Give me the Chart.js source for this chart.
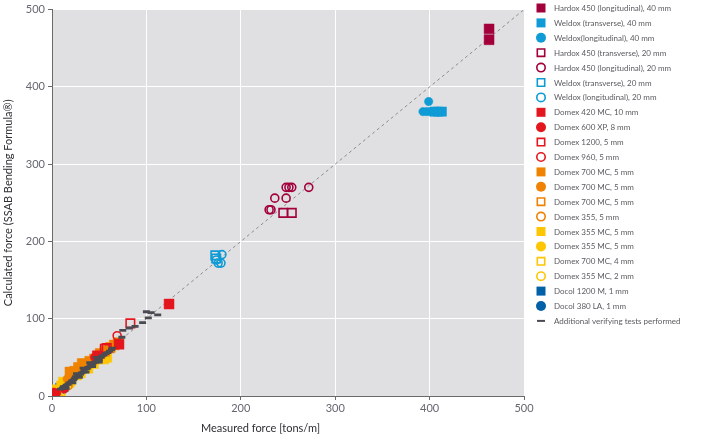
<!DOCTYPE html>
<html>
<head>
<meta charset="utf-8">
<script src="https://cdn.jsdelivr.net/npm/chart.js@4"></script>
<style>
  html, body { margin: 0; padding: 0; background: #fff; }
  #wrap { width: 706px; height: 439px; }
</style>
</head>
<body>
<div id="wrap"><canvas id="chart" width="706" height="439"></canvas></div>
<script>
// series labels (legend order)
const seriesLabels = [
    'Hardox 450 (longitudinal), 40 mm',
    'Weldox (transverse), 40 mm',
    'Weldox(longitudinal), 40 mm',
    'Hardox 450 (transverse), 20 mm',
    'Hardox 450 (longitudinal), 20 mm',
    'Weldox (transverse), 20 mm',
    'Weldox (longitudinal), 20 mm',
    'Domex 420 MC, 10 mm',
    'Domex 600 XP, 8 mm',
    'Domex 1200, 5 mm',
    'Domex 960, 5 mm',
    'Domex 700 MC, 5 mm',
    'Domex 700 MC, 5 mm',
    'Domex 700 MC, 5 mm',
    'Domex 355, 5 mm',
    'Domex 355 MC, 5 mm',
    'Domex 355 MC, 5 mm',
    'Domex 700 MC, 4 mm',
    'Domex 355 MC, 2 mm',
    'Docol 1200 M, 1 mm',
    'Docol 380 LA, 1 mm',
    'Additional verifying tests performed'
];

// [measured, calculated] pairs
const hardoxLong40 = [[463, 475], [463, 461]];
const weldoxTrans40 = [[405, 368], [409, 368], [413, 368]];
const weldoxLong40 = [[399, 381], [393, 368], [397, 368], [401, 368]];
const hardoxTrans20 = [[245, 237], [254, 237]];
const hardoxLong20 = [[230, 241], [232, 241], [236, 256], [248, 256], [248, 270], [251, 270], [254, 270], [272, 270]];
const weldoxTrans20 = [[173, 182], [174, 178]];
const weldoxLong20 = [[180, 183], [176, 172], [179, 172], [174, 176]];
const domex420 = [[124, 119], [71, 67], [48, 52]];
const domex600 = [[2, 5], [5, 4], [13, 9], [45, 50]];
const domex1200 = [[83, 94], [58, 62], [56, 61]];
const domex960 = [[69, 78]];
const domex700Sq = [[19, 31], [24, 32], [28, 37], [32, 42], [36, 41], [40, 45], [45, 48], [51, 55], [56, 58], [61, 62], [66, 66], [70, 69]];
const domex700Dot = [[16, 22], [34, 39]];
const domex700Open = [[62, 63]];
const domex355Open = [[17, 13]];
const domex355McSq = [[5, 8], [10, 13], [12, 18], [20, 22], [26, 27], [30, 30], [38, 36], [44, 42], [50, 48], [55, 48], [58, 50]];
const domex355McDot = [[21, 17], [8, 10], [42, 40]];
const domex700_4 = [[6, 3], [9, 6]];
const domex355_2 = [[4, 2], [19, 15], [3, 6]];
const docol1200 = [[9, 10], [12, 12]];
const docol380 = [[8, 12]];
const extraTests = [
    [9, 9], [11, 10], [12, 12], [14, 12], [15, 14], [17, 15], [18, 17], [20, 18], [21, 20], [23, 21],
    [24, 23], [25, 25], [27, 25], [28, 27], [30, 28], [31, 30], [33, 31], [34, 33], [35, 35], [37, 35],
    [38, 37], [40, 38], [41, 40], [43, 41], [44, 43], [46, 44], [48, 46], [50, 47], [52, 50], [53, 52],
    [55, 53], [57, 55], [59, 56], [61, 58], [63, 60], [64, 62], [74, 76], [75, 85], [82, 88], [88, 90],
    [96, 95], [100, 109], [102, 101], [105, 108], [112, 105],
    [15, 10], [22, 17], [29, 24], [36, 31], [43, 38], [50, 44], [26, 29], [33, 36], [40, 43], [47, 50]
];

// diagonal reference line
const diagonal = [[0, 0], [500, 500]];

const axisTicks = [0, 100, 200, 300, 400, 500];

const MAROON = '#a3003b';
const CYAN = '#0e9bd6';
const RED = '#e3161e';
const ORANGE = '#ef8200';
const YELLOW = '#fdc600';
const BLUE = '#0060a8';
const GREY = '#4a4b52';

function toPoints(arr) {
    return arr.map(p => ({ x: p[0], y: p[1] }));
}

function series(label, data, color, style, filled, radius) {
    return {
        label: label,
        data: toPoints(data),
        pointStyle: style,
        pointRadius: radius,
        pointHoverRadius: radius,
        pointBackgroundColor: filled ? color : 'rgba(0,0,0,0)',
        pointBorderColor: color,
        pointBorderWidth: filled ? 0.5 : 1.6,
        backgroundColor: filled ? color : 'rgba(0,0,0,0)',
        borderColor: color,
        showLine: false,
        order: 2
    };
}

const datasets = [
    series(seriesLabels[0], hardoxLong40, MAROON, 'rect', true, 7),
    series(seriesLabels[1], weldoxTrans40, CYAN, 'rect', true, 6.5),
    series(seriesLabels[2], weldoxLong40, CYAN, 'circle', true, 4.2),
    series(seriesLabels[3], hardoxTrans20, MAROON, 'rect', false, 6),
    series(seriesLabels[4], hardoxLong20, MAROON, 'circle', false, 4),
    series(seriesLabels[5], weldoxTrans20, CYAN, 'rect', false, 6),
    series(seriesLabels[6], weldoxLong20, CYAN, 'circle', false, 4),
    series(seriesLabels[7], domex420, RED, 'rect', true, 7),
    series(seriesLabels[8], domex600, RED, 'circle', true, 4.2),
    series(seriesLabels[9], domex1200, RED, 'rect', false, 6),
    series(seriesLabels[10], domex960, RED, 'circle', false, 4),
    series(seriesLabels[11], domex700Sq, ORANGE, 'rect', true, 7),
    series(seriesLabels[12], domex700Dot, ORANGE, 'circle', true, 4.2),
    series(seriesLabels[13], domex700Open, ORANGE, 'rect', false, 6),
    series(seriesLabels[14], domex355Open, ORANGE, 'circle', false, 4),
    series(seriesLabels[15], domex355McSq, YELLOW, 'rect', true, 7),
    series(seriesLabels[16], domex355McDot, YELLOW, 'circle', true, 4.2),
    series(seriesLabels[17], domex700_4, YELLOW, 'rect', false, 6),
    series(seriesLabels[18], domex355_2, YELLOW, 'circle', false, 4),
    series(seriesLabels[19], docol1200, BLUE, 'rect', true, 7),
    series(seriesLabels[20], docol380, BLUE, 'circle', true, 4.2),
    {
        label: seriesLabels[21],
        data: toPoints(extraTests),
        pointStyle: 'line',
        pointRadius: 3.5,
        pointHoverRadius: 3.5,
        pointBorderColor: GREY,
        pointBackgroundColor: GREY,
        pointBorderWidth: 2.8,
        borderColor: GREY,
        showLine: false,
        order: 0
    },
    {
        label: 'diagonal',
        type: 'line',
        data: toPoints(diagonal),
        borderColor: '#8c8c8c',
        borderWidth: 1,
        borderDash: [3, 3],
        pointRadius: 0,
        fill: false,
        order: 5
    }
];

// grey plot background
const plotBackground = {
    id: 'plotBackground',
    beforeDraw(chart) {
        const { ctx, chartArea } = chart;
        ctx.save();
        ctx.fillStyle = '#e0e0e2';
        ctx.fillRect(chartArea.left, chartArea.top, chartArea.right - chartArea.left, chartArea.bottom - chartArea.top);
        ctx.restore();
    }
};

// legend on the right, drawn from the datasets' own styles
const sideLegend = {
    id: 'sideLegend',
    afterDraw(chart) {
        const ctx = chart.ctx;
        const x0 = 541, y0 = 8, step = 14.9;
        ctx.save();
        seriesLabels.forEach((label, i) => {
            const ds = chart.data.datasets[i];
            const y = y0 + i * step;
            const open = ds.pointBackgroundColor === 'rgba(0,0,0,0)';
            ctx.fillStyle = ds.pointBackgroundColor;
            ctx.strokeStyle = ds.pointBorderColor;
            ctx.lineWidth = 1.6;
            ctx.beginPath();
            if (ds.pointStyle === 'rect') {
                if (open) {
                    ctx.rect(x0 - 3.7, y - 3.7, 7.4, 7.4);
                    ctx.stroke();
                } else {
                    ctx.rect(x0 - 4.5, y - 4.5, 9, 9);
                    ctx.fill();
                }
            } else if (ds.pointStyle === 'circle') {
                if (open) {
                    ctx.arc(x0, y, 4.2, 0, Math.PI * 2);
                    ctx.stroke();
                } else {
                    ctx.arc(x0, y, 5, 0, Math.PI * 2);
                    ctx.fill();
                }
            } else {
                ctx.lineWidth = 2;
                ctx.moveTo(x0 - 4, y);
                ctx.lineTo(x0 + 4, y);
                ctx.stroke();
            }
            ctx.fillStyle = '#5b5b60';
            ctx.font = '8px Lato';
            ctx.textBaseline = 'middle';
            ctx.textAlign = 'left';
            ctx.fillText(label, 554, y + 0.5);
        });
        ctx.restore();
    }
};

new Chart(document.getElementById('chart'), {
    type: 'scatter',
    data: { datasets: datasets },
    options: {
        responsive: false,
        animation: false,
        layout: { padding: { left: 0, right: 182, top: 7, bottom: 0 } },
        plugins: {
            legend: { display: false },
            tooltip: { enabled: false }
        },
        scales: {
            x: {
                type: 'linear',
                min: 0,
                max: 500,
                afterBuildTicks(scale) { scale.ticks = axisTicks.map(v => ({ value: v })); },
                afterFit(scale) { scale.height = 43; },
                grid: { color: '#ffffff', lineWidth: 1, tickColor: '#6a6a6a', tickLength: 4, drawOnChartArea: true },
                border: { color: '#6a6a6a', width: 1 },
                ticks: { color: '#666670', font: { family: 'Lato', size: 11 }, padding: 2 },
                title: {
                    display: true,
                    text: 'Measured force [tons/m]' + '\u2002'.repeat(10),
                    color: '#2e2e33',
                    font: { family: 'Lato', size: 11 },
                    padding: { top: 4, bottom: 4 }
                }
            },
            y: {
                type: 'linear',
                min: 0,
                max: 500,
                afterBuildTicks(scale) { scale.ticks = axisTicks.map(v => ({ value: v })); },
                afterFit(scale) { scale.width = 52; },
                grid: { color: '#ffffff', lineWidth: 1, tickColor: '#6a6a6a', tickLength: 4 },
                border: { color: '#6a6a6a', width: 1 },
                ticks: { color: '#666670', font: { family: 'Lato', size: 11 }, padding: 3 },
                title: {
                    display: true,
                    text: 'Calculated force (SSAB Bending Formula®)',
                    color: '#2e2e33',
                    font: { family: 'Lato', size: 11 },
                    padding: { top: 2, bottom: 2 }
                }
            }
        }
    },
    plugins: [plotBackground, sideLegend]
});
</script>
</body>
</html>
